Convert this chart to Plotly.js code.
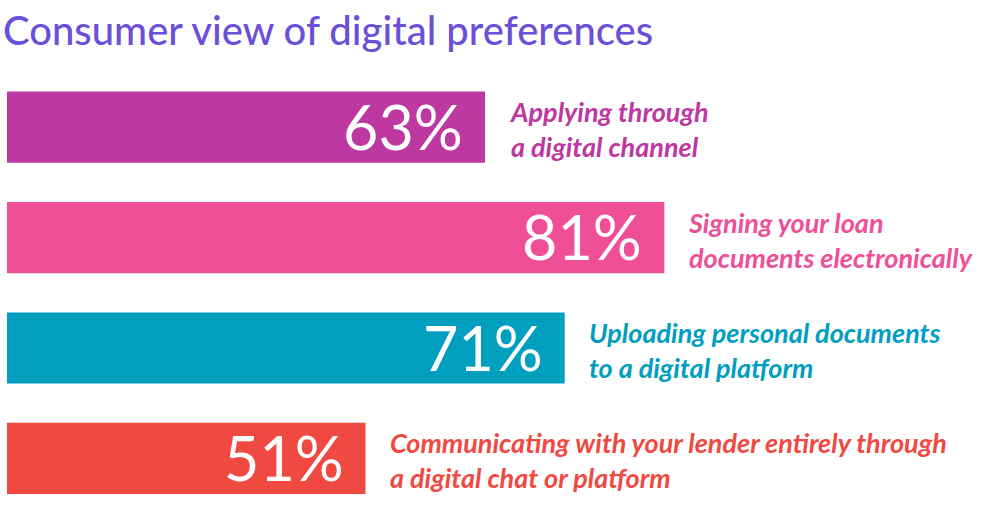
<!DOCTYPE html>
<html>
<head>
<meta charset="utf-8">
<script src="https://cdn.plot.ly/plotly-3.0.1.min.js"></script>
<style>html,body{margin:0;padding:0;background:#fff;}#chart{width:982px;height:507px;}</style>
</head>
<body>
<div id="chart"></div>
<script>
const categories = [
  "Applying through<br>a digital channel",
  "Signing your loan<br>documents electronically",
  "Uploading personal documents<br>to a digital platform",
  "Communicating with your lender entirely through<br>a digital chat or platform"
];
const values = [63, 81, 71, 51];
const valueLabels = ["63%", "81%", "71%", "51%"];
const colors = ["#BD38A0", "#EF4F97", "#009EBF", "#F04942"];
const titleText = "Consumer view of digital preferences";

const ids = categories.map((c, i) => "c" + i);

const trace = {
  type: "bar",
  orientation: "h",
  x: values,
  y: ids,
  marker: {color: colors, line: {width: 0}},
  width: 0.645,
  hoverinfo: "skip",
  textposition: "none"
};

const annotations = [];
values.forEach((v, i) => {
  annotations.push({
    x: v, y: ids[i], xref: "x", yref: "y",
    text: valueLabels[i], showarrow: false,
    xanchor: "right", yanchor: "middle", xshift: -20, yshift: 1,
    font: {family: "Lato, 'Liberation Sans', sans-serif", size: 61, color: "#ffffff"}
  });
  annotations.push({
    x: v, y: ids[i], xref: "x", yref: "y",
    text: "<b><i>" + categories[i] + "</i></b>", showarrow: false,
    xanchor: "left", yanchor: "middle", align: "left", xshift: 22, yshift: -2,
    font: {family: "Lato, 'Liberation Sans', sans-serif", size: 27, color: colors[i]}
  });
});

const layout = {
  width: 982, height: 507,
  margin: {l: 7, r: 0, t: 72, b: 0},
  paper_bgcolor: "#ffffff", plot_bgcolor: "#ffffff",
  title: {
    text: titleText, x: 0.003, xanchor: "left", xref: "container", y: 0.938, yanchor: "middle", yref: "container",
    font: {family: "Lato, 'Liberation Sans', sans-serif", size: 40, color: "#6B4FD8", weight: 500}
  },
  xaxis: {range: [15, 112.9], visible: false, fixedrange: true},
  yaxis: {range: [3.44, -0.5], visible: false, fixedrange: true, type: "category", categoryorder: "array", categoryarray: ids},
  showlegend: false,
  bargap: 0.355,
  annotations: annotations
};

Plotly.newPlot("chart", [trace], layout, {displayModeBar: false, staticPlot: true});
</script>
</body>
</html>
